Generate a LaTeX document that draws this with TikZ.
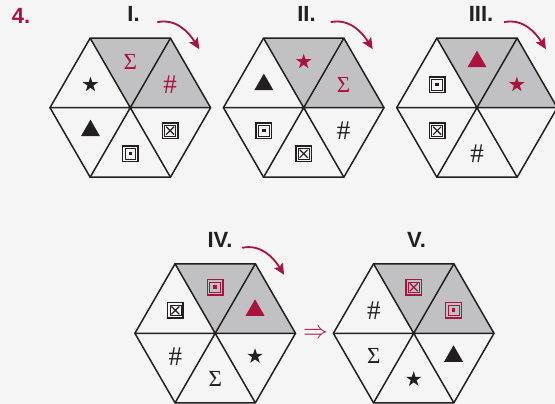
\documentclass[tikz,border=0pt]{standalone}
\usepackage{fontspec}
\setmainfont{Liberation Sans}
\newfontfamily\symfont{Liberation Serif}
\usetikzlibrary{shapes.geometric,arrows.meta}

\definecolor{crimson}{RGB}{172,18,62}
\definecolor{hexgray}{RGB}{193,193,196}
\definecolor{paper}{RGB}{245,245,245}
\definecolor{ink}{RGB}{35,31,32}

\newcommand{\hexr}{80.3}

\tikzset{
  hexline/.style={draw=ink, line width=1.5pt},
  hexa/.pic={
    % the two shaded triangles
    \fill[hexgray] (0,0) -- (120:\hexr) -- (60:\hexr) -- (0:\hexr) -- cycle;
    \draw[hexline] (0:\hexr) -- (60:\hexr) -- (120:\hexr) -- (180:\hexr)
      -- (240:\hexr) -- (300:\hexr) -- cycle;
    \draw[hexline] (0:\hexr) -- (180:\hexr) (60:\hexr) -- (240:\hexr)
      (120:\hexr) -- (300:\hexr);
    % centres of the six triangles
    \coordinate (-t) at (90:46);
    \coordinate (-ur) at (30:46);
    \coordinate (-lr) at (-30:46);
    \coordinate (-b) at (-90:46);
    \coordinate (-ll) at (210:46);
    \coordinate (-ul) at (150:46);
    % ends of the turn arrow
    \coordinate (-as) at (27,85.5);
    \coordinate (-ae) at (69,58.5);
  },
  lab/.style={font=\bfseries\fontsize{22}{22}\selectfont, text=ink, inner sep=0pt},
  turn/.style={draw=crimson, line width=1.8pt,
    -{Stealth[length=11pt, width=10pt, inset=2pt]}},
  sym/.style={inner sep=0pt, outer sep=0pt, color=ink},
  redsym/.style={color=crimson},
  starsym/.style={sym, star, star points=5, star point ratio=2.6, fill,
    minimum size=16pt},
  trisym/.style={sym, regular polygon, regular polygon sides=3, fill,
    minimum size=22pt},
  txtsym/.style={sym, font=\symfont\fontsize{23}{23}\selectfont},
  hashsym/.style={sym, font=\symfont\fontsize{27}{27}\selectfont},
  boxsym/.style={sym, rectangle, draw, line width=1.4pt, minimum size=15.5pt},
  crossbox/.style={boxsym, path picture={
    \draw[line width=0.6pt]
      ([shift={(2.3pt,2.3pt)}]path picture bounding box.south west) rectangle
      ([shift={(-2.3pt,-2.3pt)}]path picture bounding box.north east);
    \draw[line width=1.2pt]
      ([shift={(3.8pt,3.8pt)}]path picture bounding box.south west) --
      ([shift={(-3.8pt,-3.8pt)}]path picture bounding box.north east)
      ([shift={(3.8pt,-3.8pt)}]path picture bounding box.north west) --
      ([shift={(-3.8pt,3.8pt)}]path picture bounding box.south east);
  }},
  dotbox/.style={boxsym, path picture={
    \draw[line width=0.6pt]
      ([shift={(2.3pt,2.3pt)}]path picture bounding box.south west) rectangle
      ([shift={(-2.3pt,-2.3pt)}]path picture bounding box.north east);
    \fill ([shift={(-1.8pt,-1.8pt)}]path picture bounding box.center) rectangle
      ([shift={(1.8pt,1.8pt)}]path picture bounding box.center);
  }},
}

\begin{document}
\begin{tikzpicture}[x=1pt, y=1pt]
  \useasboundingbox (0,0) rectangle (555,404);
  \fill[paper] (0,0) rectangle (555,404);
  \clip (0,0) rectangle (555,404);

  \node[lab, text=crimson] (num) at (21,388) {4.};

  % the five hexagons
  \pic (h1) at (130.3,296.3) {hexa};
  \pic (h2) at (303.7,296.3) {hexa};
  \pic (h3) at (477,296.3) {hexa};
  \pic (h4) at (215.2,70.7) {hexa};
  \pic (h5) at (413.7,70.7) {hexa};

  \node[lab] (l1) at (133.5,390) {I.};
  \node[lab] (l2) at (306.5,390) {II.};
  \node[lab] (l3) at (481,390) {III.};
  \node[lab] (l4) at (220,164.5) {IV.};
  \node[lab] (l5) at (416.5,164.5) {V.};

  \draw[turn] (h1-as) to[out=12, in=122] (h1-ae);
  \draw[turn] (h2-as) to[out=12, in=122] (h2-ae);
  \draw[turn] (h3-as) to[out=12, in=122] (h3-ae);
  \draw[turn] (h4-as) to[out=12, in=122] (h4-ae);

  % I
  \node[txtsym, redsym] (s1t) at (h1-t) {Σ};
  \node[hashsym, redsym] (s1ur) at (h1-ur) {\#};
  \node[crossbox] (s1lr) at (h1-lr) {};
  \node[dotbox] (s1b) at (h1-b) {};
  \node[trisym] (s1ll) at (h1-ll) {};
  \node[starsym] (s1ul) at (h1-ul) {};
  % II
  \node[starsym, redsym] (s2t) at (h2-t) {};
  \node[txtsym, redsym] (s2ur) at (h2-ur) {Σ};
  \node[hashsym] (s2lr) at (h2-lr) {\#};
  \node[crossbox] (s2b) at (h2-b) {};
  \node[dotbox] (s2ll) at (h2-ll) {};
  \node[trisym] (s2ul) at (h2-ul) {};
  % III
  \node[trisym, redsym] (s3t) at (h3-t) {};
  \node[starsym, redsym] (s3ur) at (h3-ur) {};
  \node[hashsym] (s3b) at (h3-b) {\#};
  \node[crossbox] (s3ll) at (h3-ll) {};
  \node[dotbox] (s3ul) at (h3-ul) {};
  % IV
  \node[dotbox, redsym] (s4t) at (h4-t) {};
  \node[trisym, redsym] (s4ur) at (h4-ur) {};
  \node[starsym] (s4lr) at (h4-lr) {};
  \node[txtsym] (s4b) at (h4-b) {Σ};
  \node[hashsym] (s4ll) at (h4-ll) {\#};
  \node[crossbox] (s4ul) at (h4-ul) {};
  % V
  \node[crossbox, redsym] (s5t) at (h5-t) {};
  \node[dotbox, redsym] (s5ur) at (h5-ur) {};
  \node[trisym] (s5lr) at (h5-lr) {};
  \node[starsym] (s5b) at (h5-b) {};
  \node[txtsym] (s5ll) at (h5-ll) {Σ};
  \node[hashsym] (s5ul) at (h5-ul) {\#};

  \node[sym, redsym, font=\fontsize{23}{23}\selectfont] (imp) at (315.5,70)
    {$\Rightarrow$};
\end{tikzpicture}
\end{document}
